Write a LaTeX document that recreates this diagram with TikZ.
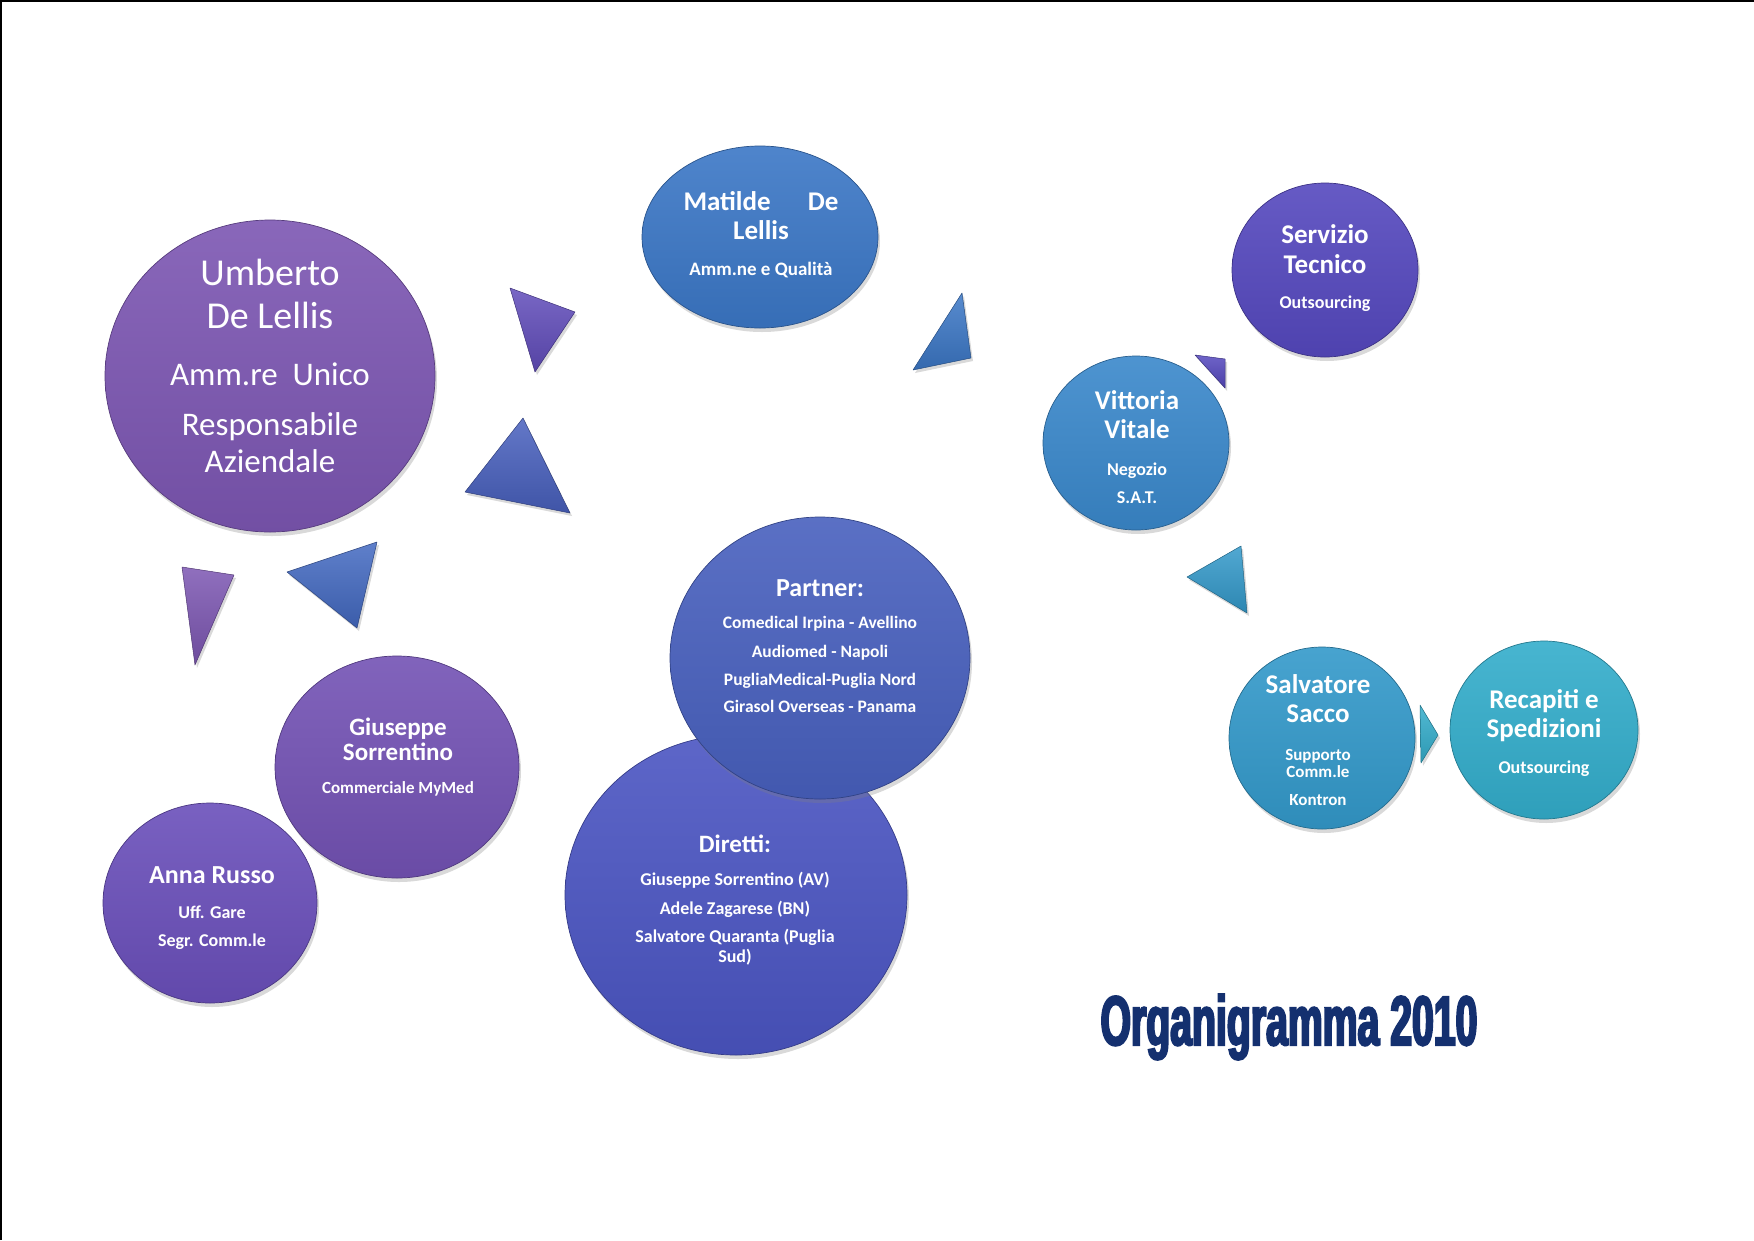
\documentclass[tikz,border=0pt]{standalone}
\usepackage{fontspec}
\setmainfont{Carlito}
\newfontfamily\titlefont[FakeStretch=0.56,BoldFeatures={FakeBold=3}]{Liberation Sans}
\usetikzlibrary{shapes.geometric, shadows}

\definecolor{umbertoc}{HTML}{7C56B2}
\definecolor{matildec}{HTML}{3B77C6}
\definecolor{servizioc}{HTML}{5548BE}
\definecolor{vittoriac}{HTML}{3A88CB}
\definecolor{partnerc}{HTML}{4860BE}
\definecolor{direttic}{HTML}{4B55C2}
\definecolor{giuseppec}{HTML}{7352B4}
\definecolor{annac}{HTML}{6A4FBA}
\definecolor{salvatorec}{HTML}{3399CA}
\definecolor{recapitic}{HTML}{33ADCB}
\definecolor{titleblue}{HTML}{14306F}

\begin{document}
\begin{tikzpicture}[x=1pt,y=-1pt,
  bubble/.style={ellipse,inner sep=0pt,top color=#1!90!white,bottom color=#1!92!black,
    draw=#1!70!black,line width=0.7pt,
    drop shadow={shadow xshift=2pt,shadow yshift=-4pt,opacity=0.3}},
  tri/.style={top color=#1!85!white,bottom color=#1!88!black,draw=#1!65!black,
    line width=0.5pt,line join=round,
    drop shadow={shadow xshift=2pt,shadow yshift=-3pt,opacity=0.3}},
  bubble text/.style={text=white,align=center,inner sep=0pt,anchor=base}]
  \useasboundingbox (0,0) rectangle (1754,1240);
  \draw[line width=2pt] (1,1240) -- (1,1) -- (1754,1);

  % circles
  \node[bubble=umbertoc,minimum width=330,minimum height=312] (umberto) at (270,376) {};
  \node[bubble=matildec,minimum width=236,minimum height=182] (matilde) at (760,237) {};
  \node[bubble=servizioc,minimum width=186,minimum height=174] (servizio) at (1325,270) {};
  \node[bubble=vittoriac,minimum width=186,minimum height=174] (vittoria) at (1136,443) {};
  \node[bubble=direttic,minimum width=342,minimum height=320] (diretti) at (736,895) {};
  \node[bubble=partnerc,minimum width=300,minimum height=282] (partner) at (820,658) {};
  \node[bubble=giuseppec,minimum width=244,minimum height=222] (giuseppe) at (397,767) {};
  \node[bubble=annac,minimum width=214,minimum height=200] (anna) at (210,903) {};
  \node[bubble=salvatorec,minimum width=186,minimum height=182] (salvatore) at (1322,738) {};
  \node[bubble=recapitic,minimum width=188,minimum height=178] (recapiti) at (1544,730) {};

  % triangles
  \path[tri=servizioc!70!umbertoc] (510,288) -- (575,312) -- (535,372) -- cycle;
  \path[tri=partnerc] (523,418) -- (465,492) -- (570,513) -- cycle;
  \path[tri=matildec] (962,293) -- (971,358) -- (913,370) -- cycle;
  \path[tri=servizioc] (1195,355) -- (1225,359) -- (1225,388) -- cycle;
  \path[tri=salvatorec] (1241,546) -- (1187,577) -- (1247,613) -- cycle;
  \path[tri=umbertoc] (182,567) -- (234,575) -- (195,665) -- cycle;
  \path[tri=partnerc!60!matildec] (377,542) -- (287,572) -- (357,628) -- cycle;
  \path[tri=recapitic] (1420,705) -- (1438,735) -- (1421,763) -- cycle;

  % texts (anchored at the last line)
  \node[bubble text,font=\fontsize{33}{37}\selectfont] (umberto-t) at (270,472)
    {\fontsize{38}{37}\selectfont Umberto\\[6pt]
     \fontsize{38}{37}\selectfont De Lellis\\[20pt]
     Amm.re~~Unico\\[13pt]
     Responsabile\\
     Aziendale};
  \node[bubble text,font=\bfseries\fontsize{19}{29}\selectfont] (matilde-t) at (761,275)
    {\fontsize{27}{29}\selectfont\makebox[155pt]{Matilde\hfill De}\\
     \fontsize{27}{29}\selectfont Lellis\\[7pt]
     Amm.ne e Qualità};
  \node[bubble text,font=\bfseries\fontsize{18}{30}\selectfont] (servizio-t) at (1325,308)
    {\fontsize{27}{30}\selectfont Servizio\\
     \fontsize{27}{30}\selectfont Tecnico\\[5pt]
     Outsourcing};
  \node[bubble text,font=\bfseries\fontsize{18}{29}\selectfont] (vittoria-t) at (1137,503)
    {\fontsize{27}{29}\selectfont Vittoria\\
     \fontsize{27}{29}\selectfont Vitale\\[8pt]
     Negozio\\[-1pt]
     S.A.T.};
  \node[bubble text,font=\bfseries\fontsize{17.5}{28}\selectfont] (partner-t) at (820,712)
    {\fontsize{26}{28}\selectfont Partner:\\[4pt]
     Comedical Irpina - Avellino\\[1pt]
     Audiomed - Napoli\\
     PugliaMedical-Puglia Nord\\[-1pt]
     Girasol Overseas - Panama};
  \node[bubble text,font=\bfseries\fontsize{18}{20}\selectfont] (diretti-t) at (735,962)
    {\fontsize{25}{20}\selectfont Diretti:\\[13pt]
     Giuseppe Sorrentino (AV)\\[9pt]
     Adele Zagarese (BN)\\[8pt]
     Salvatore Quaranta (Puglia\\
     Sud)};
  \node[bubble text,font=\bfseries\fontsize{17}{25}\selectfont] (giuseppe-t) at (398,793)
    {\fontsize{25}{25}\selectfont Giuseppe\\
     \fontsize{25}{25}\selectfont Sorrentino\\[8pt]
     Commerciale MyMed};
  \node[bubble text,font=\bfseries\fontsize{18}{28}\selectfont] (anna-t) at (212,946)
    {\fontsize{26}{28}\selectfont Anna Russo\\[7pt]
     Uff. Gare\\
     Segr. Comm.le};
  \node[bubble text,font=\bfseries\fontsize{17}{29}\selectfont] (salvatore-t) at (1318,805)
    {\fontsize{27}{29}\selectfont Salvatore\\
     \fontsize{27}{29}\selectfont Sacco\\[9pt]
     Supporto\\[-12pt]
     Comm.le\\[-1pt]
     Kontron};
  \node[bubble text,font=\bfseries\fontsize{18}{29}\selectfont] (recapiti-t) at (1544,773)
    {\fontsize{27}{29}\selectfont Recapiti e\\
     \fontsize{27}{29}\selectfont Spedizioni\\[7pt]
     Outsourcing};

  \node[anchor=base,text=titleblue,inner sep=0pt,
    font=\titlefont\bfseries\fontsize{70}{80}\selectfont] (title) at (1289,1045) {Organigramma 2010};
\end{tikzpicture}
\end{document}
